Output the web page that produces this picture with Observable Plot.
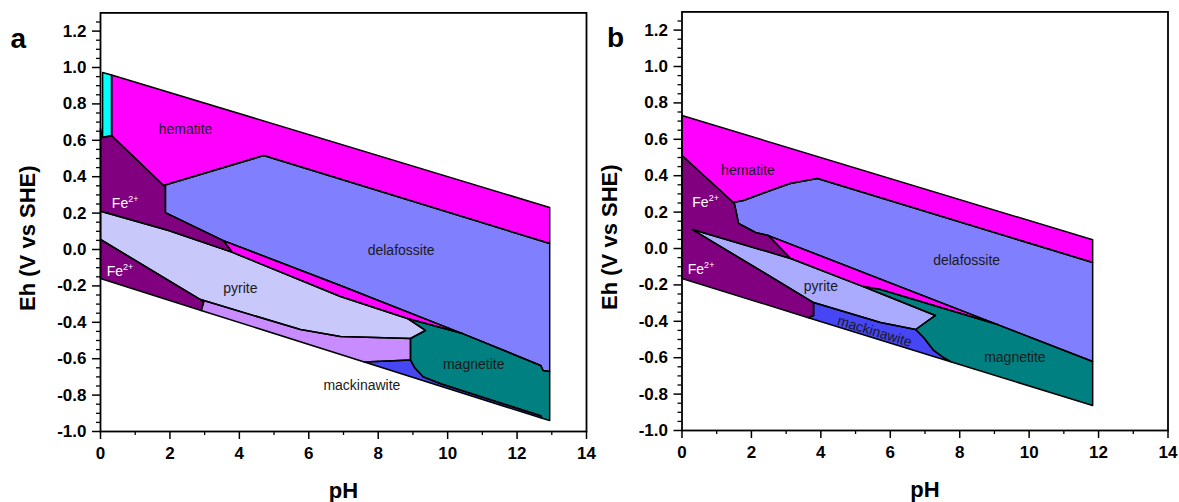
<!DOCTYPE html>
<html><head><meta charset="utf-8">
<script src="https://cdn.jsdelivr.net/npm/d3@7"></script>
<script src="https://cdn.jsdelivr.net/npm/@observablehq/plot@0.6"></script>
<style>
html,body{margin:0;padding:0;background:#fff}
body{width:1179px;height:502px;overflow:hidden;position:relative;font-family:"Liberation Sans",Arial,sans-serif}
#pa{position:absolute;left:0;top:0}
#pb{position:absolute;left:590px;top:0}
</style></head><body>
<div id="pa"></div><div id="pb"></div>
<script>
// ---------- axis ticks ----------
const X_MAJOR = [0, 2, 4, 6, 8, 10, 12, 14];
const X_MINOR = [1, 3, 5, 7, 9, 11, 13];
const Y_MAJOR = [-1.0, -0.8, -0.6, -0.4, -0.2, 0.0, 0.2, 0.4, 0.6, 0.8, 1.0, 1.2];
const Y_MINOR = [-0.95, -0.9, -0.85, -0.75, -0.7, -0.65, -0.55, -0.5, -0.45, -0.35, -0.3, -0.25,
  -0.15, -0.1, -0.05, 0.05, 0.1, 0.15, 0.25, 0.3, 0.35, 0.45, 0.5, 0.55, 0.65, 0.7, 0.75,
  0.85, 0.9, 0.95, 1.05, 1.1, 1.15, 1.25];

// ---------- panel a: stability fields [pH, Eh] ----------
const A_fe3 = [[0.06, 0.973], [0.32, 0.959], [0.32, 0.626], [0.06, 0.615]];
const A_hematite = [[0.32, 0.959], [12.94, 0.231], [12.94, 0.033], [4.70, 0.516], [1.815, 0.352], [0.32, 0.626]];
const A_fe2_upper = [[0, 0.665], [0.06, 0.615], [0.32, 0.626], [1.815, 0.352], [1.87, 0.352], [1.87, 0.203],
  [3.54, 0.049], [3.80, -0.016], [1.96, 0.104], [0.03, 0.209], [0, 0.21]];
const A_delafossite = [[1.815, 0.352], [4.70, 0.516], [12.94, 0.033], [12.94, -0.670], [12.75, -0.665],
  [12.68, -0.637], [10.43, -0.462], [6.91, -0.198], [3.54, 0.049], [1.87, 0.203], [1.87, 0.352]];
const A_hematite_band = [[3.54, 0.049], [6.91, -0.198], [10.43, -0.462], [8.84, -0.379], [6.91, -0.258], [3.80, -0.016]];
const A_pyrite = [[0, 0.21], [0.03, 0.209], [1.96, 0.104], [3.80, -0.016], [6.91, -0.258], [8.84, -0.379],
  [9.36, -0.445], [8.93, -0.489], [6.91, -0.478], [5.76, -0.440], [2.88, -0.275], [0, 0.055]];
const A_fe2_lower = [[0, 0.055], [2.88, -0.275], [2.97, -0.29], [2.90, -0.335], [0, -0.159]];
const A_lilac = [[2.88, -0.275], [5.76, -0.440], [6.91, -0.478], [8.93, -0.489], [8.93, -0.607], [7.6, -0.618],
  [2.90, -0.335], [2.97, -0.29]];
const A_mackinawite = [[7.6, -0.618], [8.93, -0.607], [9.05, -0.65], [9.3, -0.70], [9.8, -0.738],
  [12.7, -0.915], [12.7, -0.926]];
const A_magnetite = [[8.84, -0.379], [10.43, -0.462], [12.68, -0.637], [12.75, -0.665], [12.94, -0.670],
  [12.94, -0.940], [12.7, -0.926], [12.7, -0.915], [9.8, -0.738], [9.3, -0.70], [9.05, -0.65],
  [8.93, -0.607], [8.93, -0.489], [9.36, -0.445]];

// ---------- panel b ----------
const B_hematite = [[0, 0.731], [11.83, 0.048], [11.83, -0.077], [3.90, 0.385], [3.12, 0.357], [2.55, 0.319],
  [1.77, 0.264], [1.48, 0.253], [0, 0.511]];
const B_delafossite = [[1.48, 0.253], [1.77, 0.264], [2.55, 0.319], [3.12, 0.357], [3.90, 0.385], [11.83, -0.077],
  [11.83, -0.621], [2.49, 0.071], [2.12, 0.088], [1.63, 0.138], [1.51, 0.247]];
const B_hematite_band = [[2.49, 0.071], [9.09, -0.418], [5.72, -0.225], [5.2, -0.208], [3.13, -0.055]];
const B_magnetite = [[5.2, -0.208], [5.72, -0.225], [9.09, -0.418], [11.83, -0.621], [11.83, -0.863],
  [7.74, -0.622], [7.53, -0.599], [7.25, -0.56], [6.96, -0.489], [6.73, -0.445], [7.30, -0.368], [5.72, -0.247]];
const B_pyrite = [[0.30, 0.104], [3.13, -0.055], [5.2, -0.208], [5.72, -0.247], [7.30, -0.368], [6.73, -0.445],
  [5.72, -0.407], [3.79, -0.297]];
const B_mackinawite = [[3.79, -0.297], [5.72, -0.407], [6.73, -0.445], [6.96, -0.489], [7.25, -0.56],
  [7.53, -0.599], [7.74, -0.622], [3.64, -0.380], [3.79, -0.368]];
const B_fe2 = [[0, 0.511], [1.48, 0.253], [1.51, 0.247], [1.63, 0.138], [2.12, 0.088], [2.49, 0.071],
  [3.13, -0.055], [0.30, 0.104], [3.79, -0.297], [3.79, -0.368], [3.64, -0.380], [0, -0.165]];

// ---------- labels ----------
const A_labels = [
  {text: "hematite", pH: 2.45, Eh: 0.659},
  {text: "Fe2+", pH: 0.71, Eh: 0.253},
  {text: "Fe2+", pH: 0.56, Eh: -0.121},
  {text: "delafossite", pH: 8.66, Eh: -0.005},
  {text: "pyrite", pH: 4.03, Eh: -0.212},
  {text: "magnetite", pH: 10.75, Eh: -0.632},
  {text: "mackinawite", pH: 7.53, Eh: -0.747}
];
const B_labels = [
  {text: "hematite", pH: 1.90, Eh: 0.429},
  {text: "Fe2+", pH: 0.68, Eh: 0.253},
  {text: "Fe2+", pH: 0.55, Eh: -0.115},
  {text: "delafossite", pH: 8.20, Eh: -0.066},
  {text: "pyrite", pH: 4.0, Eh: -0.209},
  {text: "magnetite", pH: 9.59, Eh: -0.599}
];
const B_rotated = [{text: "mackinawite", pH: 5.55, Eh: -0.456}];

// ---------- styles ----------
const COLORS = {
  fe3: "#00ffff", hematite: "#ff00ff", delafossite: "#8080ff", fe2: "#800080",
  pyriteA: "#c8c8fa", pyriteB: "#aaaaff", lilac: "#c88cff", mackinawite: "#4646f5", magnetite: "#008080"
};
const regionsA = [
  {c: "fe3", pts: A_fe3}, {c: "hematite", pts: A_hematite}, {c: "fe2", pts: A_fe2_upper},
  {c: "delafossite", pts: A_delafossite}, {c: "hematite", pts: A_hematite_band}, {c: "pyriteA", pts: A_pyrite},
  {c: "fe2", pts: A_fe2_lower}, {c: "lilac", pts: A_lilac}, {c: "mackinawite", pts: A_mackinawite},
  {c: "magnetite", pts: A_magnetite}
];
const regionsB = [
  {c: "hematite", pts: B_hematite}, {c: "delafossite", pts: B_delafossite}, {c: "hematite", pts: B_hematite_band},
  {c: "magnetite", pts: B_magnetite}, {c: "pyriteB", pts: B_pyrite}, {c: "mackinawite", pts: B_mackinawite},
  {c: "fe2", pts: B_fe2}
];

const FONT = "Liberation Sans, Arial, Helvetica, sans-serif";

function panel(regions, labels, rotLabels, letter, m) {
  const marks = [];
  for (const r of regions) marks.push(Plot.line(r.pts, {x: d => d[0], y: d => d[1], fill: COLORS[r.c], stroke: "none", curve: "linear-closed"}));
  for (const r of regions) marks.push(Plot.line(r.pts, {x: d => d[0], y: d => d[1], stroke: "black", strokeWidth: 1.5, curve: "linear-closed"}));
  marks.push(Plot.text(labels, {x: "pH", y: "Eh", text: "text", fontSize: 14, fill: d => d.text === "Fe2+" ? "white" : "#1a1a1a"}));
  if (rotLabels.length) marks.push(Plot.text(rotLabels, {x: "pH", y: "Eh", text: "text", fontSize: 14, rotate: 17, fill: "#1a1a1a"}));
  marks.push(
    Plot.axisY({ticks: Y_MAJOR, tickSize: 8, tickPadding: 6, tickFormat: d => d.toFixed(1), fontSize: 17, fontWeight: "bold", strokeWidth: 1.5, label: null}),
    Plot.axisY({ticks: Y_MINOR, tickSize: 4, tickFormat: () => "", strokeWidth: 1.3, label: null}),
    Plot.axisX({ticks: X_MAJOR, tickSize: 8, tickPadding: 7, fontSize: 17, fontWeight: "bold", strokeWidth: 1.5, label: null}),
    Plot.axisX({ticks: X_MINOR, tickSize: 4, tickFormat: () => "", strokeWidth: 1.3, label: null}),
    Plot.frame({stroke: "black", strokeWidth: 1.8}),
    Plot.text(["Eh (V vs SHE)"], {text: d => d, frameAnchor: "left", dx: -72.5, dy: 16, rotate: -90, textAnchor: "middle", lineAnchor: "middle", fontSize: 22, fontWeight: "bold"}),
    Plot.text(["pH"], {text: d => d, frameAnchor: "bottom", dy: 59, textAnchor: "middle", lineAnchor: "middle", fontSize: 22, fontWeight: "bold"}),
    Plot.text([letter], {text: d => d, frameAnchor: "top-left", dx: m.letterDx, dy: 35, textAnchor: "start", lineAnchor: "bottom", fontSize: 28, fontWeight: "bold"})
  );
  const svg = Plot.plot({
    width: m.width, height: 502,
    marginLeft: m.left, marginRight: m.right, marginTop: m.top, marginBottom: m.bottom,
    x: {domain: [0, 14]}, y: {domain: [-1.0, 1.3]},
    style: {fontFamily: FONT, background: "transparent", overflow: "visible", color: "black"},
    marks
  });
  svg.querySelectorAll("text").forEach(t => {
    if (t.textContent === "Fe2+") {
      t.textContent = "Fe";
      const ts = document.createElementNS("http://www.w3.org/2000/svg", "tspan");
      ts.setAttribute("dy", "-6");
      ts.setAttribute("font-size", "9");
      ts.textContent = "2+";
      t.appendChild(ts);
    }
  });
  return svg;
}

document.getElementById("pa").appendChild(panel(regionsA, A_labels, [], "a",
  {width: 590, left: 100, right: 4, top: 12.4, bottom: 71, letterDx: -90}));
document.getElementById("pb").appendChild(panel(regionsB, B_labels, B_rotated, "b",
  {width: 589, left: 91.5, right: 11.5, top: 11.4, bottom: 72, letterDx: -75}));
</script></body></html>
